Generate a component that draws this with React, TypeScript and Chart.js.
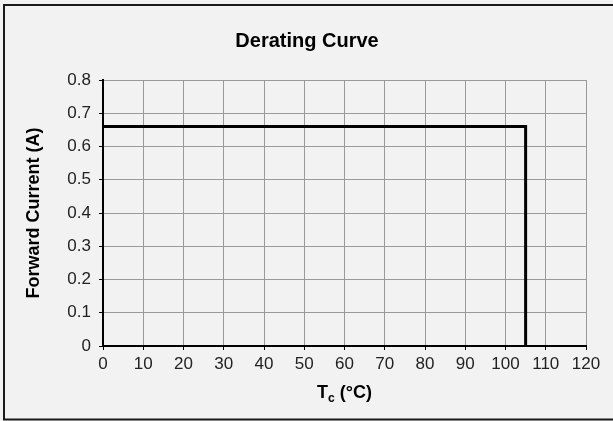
import React, { useEffect, useRef } from "react";
import { Chart, registerables } from "chart.js";

Chart.register(...registerables);

const chartTitle = "Derating Curve";
const yAxisTitle = "Forward Current (A)";
const xAxisTitleMain = "T";
const xAxisTitleSub = "c";
const xAxisTitleRest = " (°C)";

const tempC = [0, 105, 105];
const currentA = [0.66, 0.66, 0];

const xTickValues = [0, 10, 20, 30, 40, 50, 60, 70, 80, 90, 100, 110, 120];
const yTickValues = [0, 0.1, 0.2, 0.3, 0.4, 0.5, 0.6, 0.7, 0.8];
const yTickLabels = ["0", "0.1", "0.2", "0.3", "0.4", "0.5", "0.6", "0.7", "0.8"];

const FONT = "'Liberation Sans', Arial, sans-serif";

export default function App() {
  const canvasRef = useRef<HTMLCanvasElement | null>(null);

  useEffect(() => {
    document.body.style.margin = "0";
    const canvas = canvasRef.current;
    if (!canvas) return;

    const decor = {
      id: "decor",
      beforeDraw(chart: any) {
        const ctx = chart.ctx;
        ctx.save();
        ctx.fillStyle = "#f2f2f2";
        ctx.fillRect(0, 0, chart.width, chart.height);
        ctx.strokeStyle = "#1a1a1a";
        ctx.lineWidth = 2;
        ctx.strokeRect(4, 5, 800, 414.5);
        ctx.restore();
      },
      afterDraw(chart: any) {
        const ctx = chart.ctx;
        const area = chart.chartArea;
        ctx.save();
        ctx.fillStyle = "#000";
        // title
        ctx.font = `bold 20px ${FONT}`;
        ctx.textAlign = "center";
        ctx.textBaseline = "alphabetic";
        ctx.fillText(chartTitle, 307, 47);
        // y title
        ctx.save();
        ctx.translate(39, (area.top + area.bottom) / 2);
        ctx.rotate(-Math.PI / 2);
        ctx.font = `bold 18px ${FONT}`;
        ctx.textAlign = "center";
        ctx.textBaseline = "alphabetic";
        ctx.fillText(yAxisTitle, 0, 0);
        ctx.restore();
        // x title with subscript
        const mainFont = `bold 18px ${FONT}`;
        const subFont = `bold 12px ${FONT}`;
        ctx.font = mainFont;
        const wT = ctx.measureText(xAxisTitleMain).width;
        const wRest = ctx.measureText(xAxisTitleRest).width;
        ctx.font = subFont;
        const wSub = ctx.measureText(xAxisTitleSub).width;
        const total = wT + wSub + wRest;
        const cx = (area.left + area.right) / 2;
        let x = cx - total / 2;
        const baseY = 398;
        ctx.textAlign = "left";
        ctx.font = mainFont;
        ctx.fillText(xAxisTitleMain, x, baseY);
        x += wT;
        ctx.font = subFont;
        ctx.fillText(xAxisTitleSub, x, baseY + 4);
        x += wSub;
        ctx.font = mainFont;
        ctx.fillText(xAxisTitleRest, x, baseY);
        ctx.restore();
      },
    };

    const chart = new Chart(canvas, {
      type: "line",
      data: {
        datasets: [
          {
            data: tempC.map((t, i) => ({ x: t, y: currentA[i] })),
            borderColor: "#000",
            borderWidth: 3,
            pointRadius: 0,
            tension: 0,
            fill: false,
            borderJoinStyle: "miter",
          } as any,
        ],
      },
      options: {
        responsive: false,
        animation: false,
        devicePixelRatio: 1,
        layout: { padding: { top: 80, right: 27, left: 0, bottom: 0 } },
        plugins: {
          legend: { display: false },
          title: { display: false },
          tooltip: { enabled: false },
        },
        scales: {
          x: {
            type: "linear",
            min: 0,
            max: 120,
            afterFit(scale: any) {
              scale.height = 75;
            },
            afterBuildTicks(scale: any) {
              scale.ticks = xTickValues.map((v) => ({ value: v }));
            },
            ticks: {
              font: { family: FONT, size: 17 },
              color: "#222",
              padding: 4,
              maxRotation: 0,
              autoSkip: false,
              callback: (v: any) => String(v),
            },
            grid: { color: "#9a9a9a", lineWidth: 1, tickLength: 4, tickColor: "#000" },
            border: { color: "#000", width: 2 },
          },
          y: {
            type: "linear",
            min: 0,
            max: 0.8,
            afterFit(scale: any) {
              scale.width = 103;
            },
            afterBuildTicks(scale: any) {
              scale.ticks = yTickValues.map((v) => ({ value: v }));
            },
            ticks: {
              font: { family: FONT, size: 17 },
              color: "#222",
              padding: 8,
              autoSkip: false,
              callback: (v: any) => {
                const i = yTickValues.findIndex((t) => Math.abs(t - v) < 1e-9);
                return i >= 0 ? yTickLabels[i] : "";
              },
            },
            grid: { color: "#9a9a9a", lineWidth: 1, tickLength: 4, tickColor: "#000" },
            border: { color: "#000", width: 2 },
          },
        },
      },
      plugins: [decor],
    });

    return () => chart.destroy();
  }, []);

  return (
    <div style={{ position: "absolute", left: 0, top: 0, width: 613, height: 421 }}>
      <canvas ref={canvasRef} width={613} height={421} style={{ display: "block" }} />
    </div>
  );
}
